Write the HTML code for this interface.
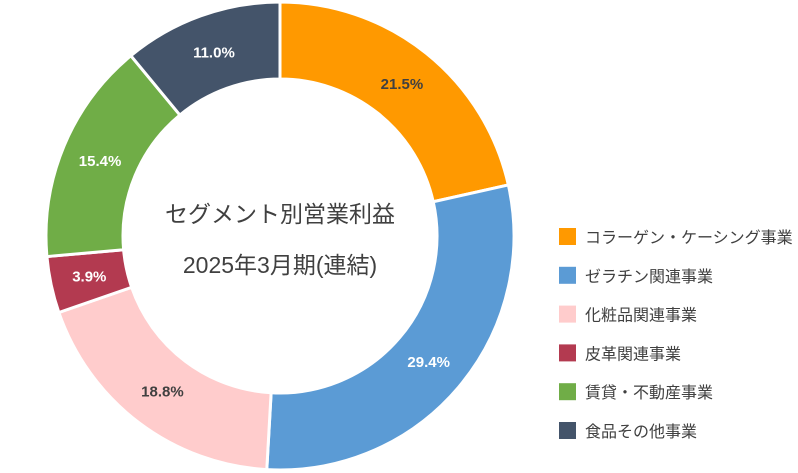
<!DOCTYPE html>
<html><head><meta charset="utf-8"><style>
body{margin:0;background:#fff;}
svg{display:block;font-family:"Liberation Sans","Noto Sans CJK JP",sans-serif;}
</style></head><body>
<svg width="798" height="473" viewBox="0 0 798 473">
<g id="slices"></g>
<g id="labels"></g>
<text x="280" y="222" text-anchor="middle" font-size="23" fill="#404040">セグメント別営業利益</text>
<text x="280" y="273" text-anchor="middle" font-size="23" fill="#404040">2025年3月期(連結)</text>
<g id="legend"></g>
</svg>
<script>
const categories=["コラーゲン・ケーシング事業","ゼラチン関連事業","化粧品関連事業","皮革関連事業","賃貸・不動産事業","食品その他事業"];
const values=[21.5,29.4,18.8,3.9,15.4,11.0];
const labels=["21.5%","29.4%","18.8%","3.9%","15.4%","11.0%"];
const colors=["#FF9900","#5B9BD5","#FFCCCC","#B33A50","#70AD47","#44546A"];
const labelColors=["#404040","#fff","#404040","#fff","#fff","#fff"];
const NS="http://www.w3.org/2000/svg";
const cx=280,cy=236,ro=234,ri=157,rl=195;
const total=values.reduce((a,b)=>a+b,0);
function pt(r,a){return [cx+r*Math.sin(a),cy-r*Math.cos(a)];}
let acc=0;
const gS=document.getElementById('slices'),gL=document.getElementById('labels'),gG=document.getElementById('legend');
values.forEach((v,i)=>{
  const a0=acc/total*2*Math.PI; acc+=v; const a1=acc/total*2*Math.PI;
  const large=(a1-a0)>Math.PI?1:0;
  const p0=pt(ro,a0),p1=pt(ro,a1),q1=pt(ri,a1),q0=pt(ri,a0);
  const p=document.createElementNS(NS,'path');
  p.setAttribute('d',`M${p0}A${ro},${ro} 0 ${large} 1 ${p1}L${q1}A${ri},${ri} 0 ${large} 0 ${q0}Z`);
  p.setAttribute('fill',colors[i]);p.setAttribute('stroke','#fff');p.setAttribute('stroke-width','3');
  
  
  gS.appendChild(p);
  const m=pt(rl,(a0+a1)/2);
  const t=document.createElementNS(NS,'text');
  t.setAttribute('x',m[0]);t.setAttribute('y',m[1]+5);t.setAttribute('text-anchor','middle');
  t.setAttribute('font-size','15');t.setAttribute('font-weight','bold');t.setAttribute('fill',labelColors[i]);
  t.textContent=labels[i];
  
  
  gL.appendChild(t);
  const y=237+i*38.8;
  const r=document.createElementNS(NS,'rect');
  r.setAttribute('x',559);r.setAttribute('y',y-9);r.setAttribute('width',17);r.setAttribute('height',17);r.setAttribute('fill',colors[i]);
  
  
  gG.appendChild(r);
  const lt=document.createElementNS(NS,'text');
  lt.setAttribute('x',585);lt.setAttribute('y',y+6);lt.setAttribute('font-size','16');lt.setAttribute('fill','#404040');
  lt.textContent=categories[i];
  
  
  gG.appendChild(lt);
});
</script>
</body></html>
